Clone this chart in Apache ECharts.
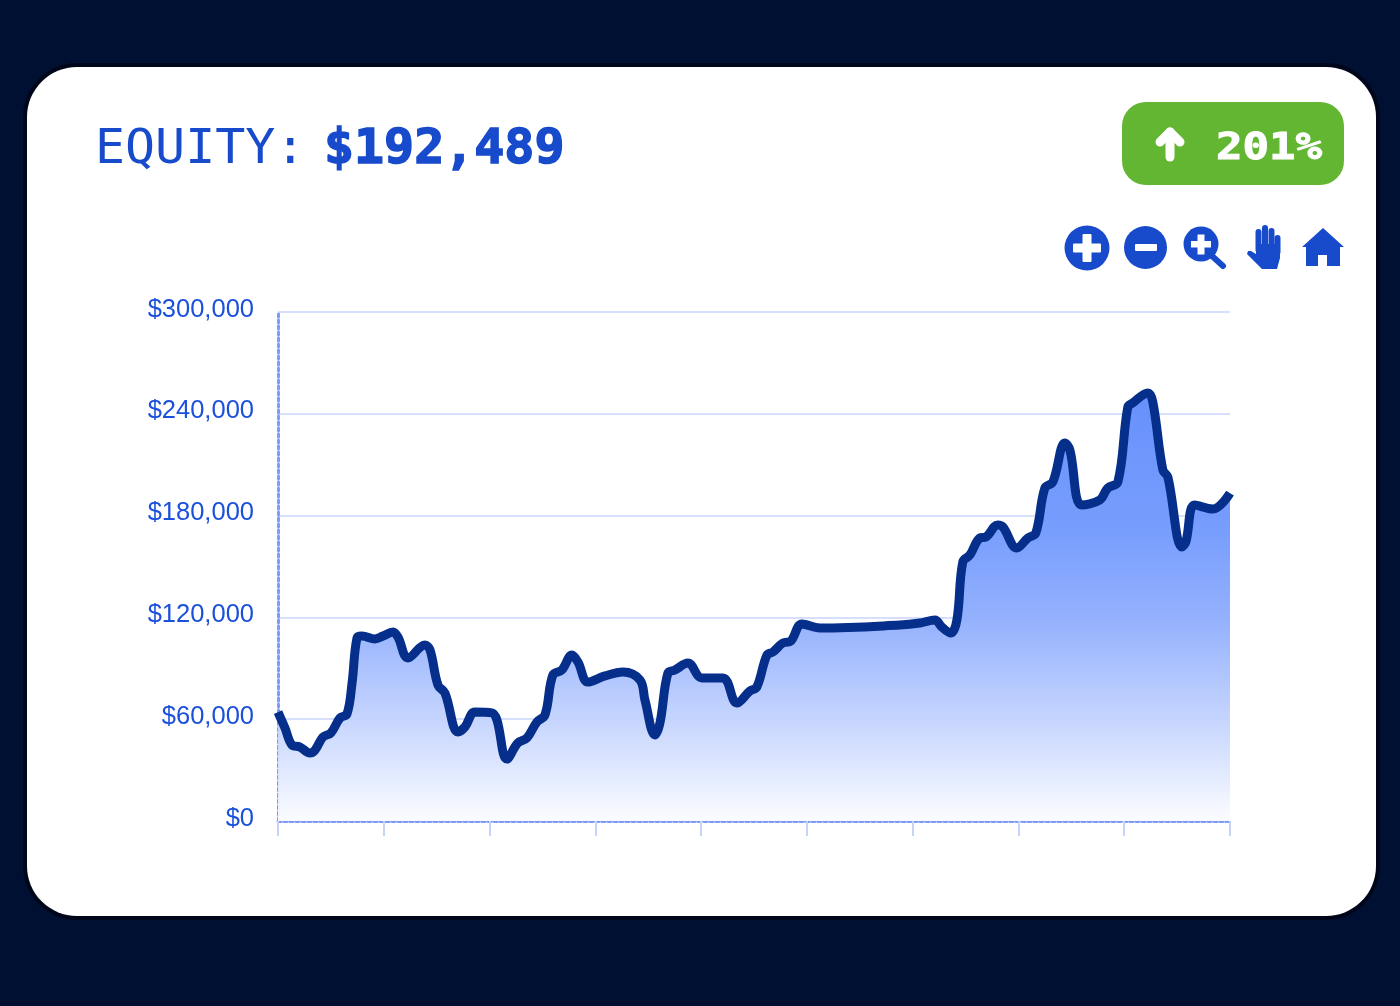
<!DOCTYPE html>
<html>
<head>
<meta charset="utf-8">
<style>html,body{margin:0;padding:0;background:#001033}#c{width:1400px;height:1006px}</style>
<script src="https://cdn.jsdelivr.net/npm/echarts@6/dist/echarts.min.js"></script>
</head>
<body>
<div id="c"></div>
<script>
const days = [0,0.66,1.32,2.08,3.02,3.5,4.25,5.0,5.86,6.52,7.0,7.47,7.94,9.17,9.92,10.87,11.34,12.29,13.89,14.37,15.12,15.78,17.01,17.67,18.62,20.23,20.7,21.64,22.68,23.53,24.48,25.24,25.99,26.84,27.79,28.36,29.3,30.91,32.61,34.22,34.69,35.63,36.11,36.86,37.52,38.75,40.08,42.06,43.38,44.61,45.27,46.22,46.79,47.73,48.49,49.53,51.23,58.79,60.68,62.1,62.76,63.6,64.18,64.74,65.41,66.35,66.92,68.05,68.53,69.85,70.89,71.64,72.5,73.25,74.39,74.86,75.99,77.69,78.45,79.4,80.34,80.81,82.23,82.7,83.65,84.12,85.44,85.82,86.67,88.37,90];
const equity = [64200,54800,44800,43600,40100,41800,49500,51900,60700,63100,81300,107900,109000,107300,109000,111400,108400,96100,103700,100800,80200,75400,52500,55400,64200,63700,59500,36500,46000,48900,58400,62500,86100,89000,97800,93700,81900,85500,87800,83100,71300,50700,57800,87200,89000,93100,84300,84300,69500,76600,79000,97800,99600,104900,106100,116100,113800,115500,116700,118500,114300,110800,118500,152700,156800,166800,167400,174500,173300,160900,166800,169700,196300,199800,222800,218700,186200,189200,196300,199800,244000,246400,252300,247000,206900,202800,161500,164400,186200,183900,193300];
const yTicks = {min:0,max:300000,interval:60000};
const xTicks = {min:0,max:90,interval:10};
const titleLabel = 'EQUITY:';
const titleValue = '$192,489';
const changeLabel = '201%';

const blue = '#174bcc', textBlue = '#1a50dc';
const ch = echarts.init(document.getElementById('c'));
const pts = days.map((d,i)=>[d,equity[i]]);
const icon = (o)=>Object.assign({silent:true,z:10},o);
const finger = (x,y0,y1)=>icon({type:'polyline',shape:{points:[[x,y0],[x,y1]]},style:{stroke:blue,lineWidth:6,lineCap:'round',fill:null}});
ch.setOption({
  animation:false,
  backgroundColor:'#001033',
  grid:{left:278,top:312,width:952,height:509,containLabel:false},
  xAxis:{type:'value',min:xTicks.min,max:xTicks.max,interval:xTicks.interval,
    axisLine:{show:true,lineStyle:{color:'#7c9cf7',width:3,type:'dotted'}},
    axisTick:{show:true,length:15,lineStyle:{color:'#c6d4fa',width:2}},
    axisLabel:{show:false},splitLine:{show:false}},
  yAxis:{type:'value',min:yTicks.min,max:yTicks.max,interval:yTicks.interval,
    axisLine:{show:true,lineStyle:{color:'#7c9cf7',width:3,type:'dotted'}},
    axisTick:{show:false},
    axisLabel:{margin:24,color:textBlue,fontFamily:'Liberation Sans',fontSize:25.5,verticalAlign:'bottom',lineHeight:5,
      formatter:v=>'$'+v.toLocaleString('en-US')},
    splitLine:{show:true,lineStyle:{color:'#d6e0fd',width:2}}},
  series:[{type:'line',data:pts,showSymbol:false,smooth:0.38,z:5,
    lineStyle:{color:'#062f8c',width:9,cap:'butt',join:'round'},
    areaStyle:{opacity:0.95,color:new echarts.graphic.LinearGradient(0,0,0,1,[
      {offset:0,color:'#5f8bfb'},{offset:0.32,color:'#7098fd'},{offset:0.53,color:'#8fadfd'},{offset:0.77,color:'#c4d4fe'},{offset:1,color:'#fbfcff'}])}}],
  graphic:[
    {type:'rect',z:-11,silent:true,shape:{x:23,y:63,width:1357,height:857,r:54},style:{fill:'#00061a'}},
    {type:'rect',z:-10,silent:true,shape:{x:27,y:67,width:1349,height:849,r:50},style:{fill:'#fff'}},
    icon({type:'text',x:95,y:127,scaleX:1.04,style:{text:titleLabel,fontFamily:'DejaVu Sans Mono',fontSize:48,fill:blue}}),
    icon({type:'text',x:324,y:127,scaleX:1.04,style:{text:titleValue,fontFamily:'DejaVu Sans Mono',fontWeight:'bold',fontSize:48,fill:blue,stroke:blue,lineWidth:1.5}}),
    icon({type:'rect',shape:{x:1122,y:102,width:222,height:83,r:24},style:{fill:'#63b632'}}),
    icon({type:'polyline',shape:{points:[[1170,157],[1170,132]]},style:{stroke:'#fff',lineWidth:9,lineCap:'round',fill:null}}),
    icon({type:'polyline',shape:{points:[[1160,142],[1170,132],[1180,142]]},style:{stroke:'#fff',lineWidth:9,lineCap:'round',lineJoin:'round',fill:null}}),
    icon({type:'text',x:1216,y:130,scaleX:1.16,style:{text:changeLabel,fontFamily:'DejaVu Sans Mono',fontWeight:'bold',fontSize:38,fill:'#fff',stroke:'#fff',lineWidth:1}}),
    icon({type:'circle',shape:{cx:1087,cy:248,r:22.5},style:{fill:blue}}),
    icon({type:'rect',shape:{x:1073,y:243.5,width:28,height:9,r:1},style:{fill:'#fff'}}),
    icon({type:'rect',shape:{x:1082.5,y:234,width:9,height:28,r:1},style:{fill:'#fff'}}),
    icon({type:'circle',shape:{cx:1145.5,cy:247.5,r:21.5},style:{fill:blue}}),
    icon({type:'rect',shape:{x:1135,y:244,width:22,height:7,r:1},style:{fill:'#fff'}}),
    icon({type:'circle',shape:{cx:1201,cy:244,r:17.5},style:{fill:blue}}),
    icon({type:'polyline',shape:{points:[[1212,256],[1223,266]]},style:{stroke:blue,lineWidth:6,lineCap:'round',fill:null}}),
    icon({type:'rect',shape:{x:1191,y:241,width:20,height:6.5},style:{fill:'#fff'}}),
    icon({type:'rect',shape:{x:1197.5,y:234.5,width:7,height:20},style:{fill:'#fff'}}),
    finger(1258.5,250,232),finger(1265,250,228),finger(1271.5,250,231),finger(1277.5,252,238),
    icon({type:'polygon',shape:{points:[[1262,269],[1251,258],[1247,254],[1248,251],[1251,251],[1256,254],[1256,244],[1280,244],[1280,258],[1277,269]]},style:{fill:blue}}),
    icon({type:'polygon',shape:{points:[[1323,228],[1344,247],[1340,247],[1340,266],[1327,266],[1327,255],[1318,255],[1318,266],[1306,266],[1306,247],[1302,247]]},style:{fill:blue}})
  ]
});
</script>
</body>
</html>
